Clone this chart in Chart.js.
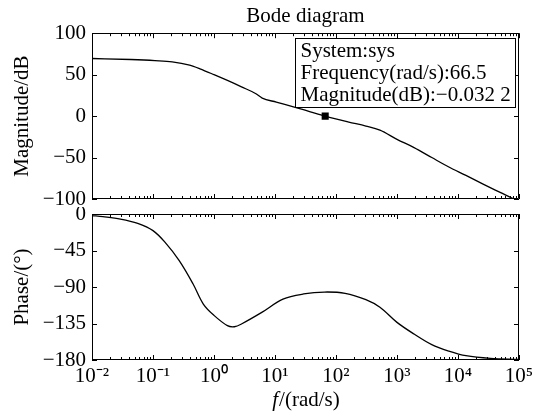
<!DOCTYPE html>
<html>
<head>
<meta charset="utf-8">
<script src="https://cdn.jsdelivr.net/npm/chart.js@4.4.1/dist/chart.umd.min.js"></script>
<style>
  html, body { margin: 0; padding: 0; background: #fff; }
  #wrap { position: relative; width: 543px; height: 416px; background: #fff; }
  #c1 { position: absolute; left: 0; top: 0; }
  #c2 { position: absolute; left: 0; top: 207px; }
</style>
</head>
<body>
<div id="wrap">
  <canvas id="c1" width="543" height="207"></canvas>
  <canvas id="c2" width="543" height="209"></canvas>
</div>
<script>
// ---------------- data ----------------
const magFreq = [0.01, 0.0432, 0.1076, 0.2065, 0.398, 0.589, 1.0, 1.66, 2.82, 4.79, 6.17, 10.5, 22.9, 38.0, 66.5, 162, 309, 525, 1000, 1905, 3715, 7079, 13490, 26300, 50120, 79430, 100000];
const magDb   = [69.5, 68.3, 67.0, 65.5, 61.4, 57.0, 50.0, 43.0, 35.3, 27.3, 21.7, 16.9, 10.0, 5.2, -0.0322, -7.2, -12.0, -16.9, -28.0, -38.0, -50.0, -61.4, -71.5, -82.3, -92.4, -99.6, -104];

const phaseFreq = [0.01, 0.0151, 0.0292, 0.0562, 0.1, 0.158, 0.269, 0.452, 0.668, 1.0, 1.66, 2.16, 2.82, 6.17, 13.5, 29.5, 64.6, 141, 309, 525, 1000, 1905, 3715, 7079, 13490, 33880, 100000];
const phaseDeg  = [-2.0, -3.3, -6.2, -11.5, -20.5, -35.0, -57.5, -86.0, -111.0, -125.0, -137.7, -139.0, -135.6, -121.0, -105.0, -98.6, -96.2, -97.8, -105.6, -115.0, -133.6, -148.0, -161.0, -169.0, -174.7, -178.0, -179.2];

const xTickValues = [1e-2, 1e-1, 1e0, 1e1, 1e2, 1e3, 1e4, 1e5];
const xTickLabels = ['10\u207B\u00B2', '10\u207B\u00B9', '10\u2070', '10\u00B9', '10\u00B2', '10\u00B3', '10\u2074', '10\u2075'];
const magTicks = [100, 50, 0, -50, -100];
const phaseTicks = [0, -45, -90, -135, -180];

const tipFreq = [66.5];
const tipMag = [-0.0322];
const tipLines = ['System:sys', 'Frequency(rad/s):66.5', 'Magnitude(dB):\u22120.032 2'];

// ---------------- styling ----------------
const FONT = '"Liberation Serif", "Times New Roman", Times, serif';
const FS = 21;
Chart.defaults.font.family = FONT;
Chart.defaults.font.size = FS;
Chart.defaults.color = '#000';

const PLOT_LEFT = 92;
const PLOT_RIGHT_PAD = 24;
const minus = v => String(v).replace('-', '\u2212');

function noOverflow(s) {
  s.paddingTop = 0; s.paddingBottom = 0; s.paddingLeft = 0; s.paddingRight = 0;
}

// inward tick marks on all four sides + box frame
const frameTicks = {
  id: 'frameTicks',
  afterDraw(chart) {
    const {ctx, chartArea: a, scales} = chart;
    const x = scales.x, y = scales.y;
    ctx.save();
    ctx.strokeStyle = '#000';
    ctx.lineWidth = 1;
    ctx.beginPath();
    ctx.rect(Math.round(a.left) + 0.5, Math.round(a.top) + 0.5, Math.round(a.right - a.left) - 1, Math.round(a.bottom - a.top) - 1);
    ctx.stroke();
    ctx.beginPath();
    for (let e = -2; e <= 5; e++) {
      for (let m = 1; m <= 9; m++) {
        const v = m * Math.pow(10, e);
        if (v > 1e5 * 1.0001) break;
        const px = Math.round(x.getPixelForValue(v)) + 0.5;
        const len = (m === 1) ? 5 : 3;
        ctx.moveTo(px, a.top); ctx.lineTo(px, a.top + len);
        ctx.moveTo(px, a.bottom); ctx.lineTo(px, a.bottom - len);
      }
    }
    y.ticks.forEach(t => {
      const py = Math.round(y.getPixelForValue(t.value)) + 0.5;
      ctx.moveTo(a.left, py); ctx.lineTo(a.left + 5, py);
      ctx.moveTo(a.right, py); ctx.lineTo(a.right - 5, py);
    });
    ctx.stroke();
    ctx.restore();
  }
};

// data tip box on the magnitude plot
const dataTip = {
  id: 'dataTip',
  afterDraw(chart) {
    const {ctx, chartArea: a, scales} = chart;
    const mx = scales.x.getPixelForValue(tipFreq[0]);
    ctx.save();
    ctx.font = FS + 'px ' + FONT;
    const w = Math.max(...tipLines.map(s => ctx.measureText(s).width));
    const left = Math.round(mx - 30) + 0.5;
    const top = Math.round(a.top + 5) + 0.5;
    const lh = 22;
    const bw = Math.round(w + 10);
    const bh = lh * tipLines.length + 3;
    ctx.fillStyle = '#fff';
    ctx.fillRect(left, top, bw, bh);
    ctx.strokeStyle = '#000';
    ctx.lineWidth = 1;
    ctx.strokeRect(left, top, bw, bh);
    ctx.fillStyle = '#000';
    ctx.textBaseline = 'alphabetic';
    tipLines.forEach((s, i) => ctx.fillText(s, left + 5, top + 18 + i * lh));
    ctx.restore();
  }
};

// x-axis label with italic f
const xLabel = {
  id: 'xLabel',
  afterDraw(chart) {
    const {ctx, chartArea: a} = chart;
    ctx.save();
    ctx.fillStyle = '#000';
    ctx.textBaseline = 'alphabetic';
    const fI = 'italic ' + FS + 'px ' + FONT, fN = FS + 'px ' + FONT;
    ctx.font = fI; const w1 = ctx.measureText('f').width;
    ctx.font = fN; const w2 = ctx.measureText('/(rad/s)').width;
    const cx = (a.left + a.right) / 2;
    let x0 = cx - (w1 + w2) / 2;
    ctx.font = fI; ctx.fillText('f', x0, 199);
    ctx.font = fN; ctx.fillText('/(rad/s)', x0 + w1 + 1, 199);
    ctx.restore();
  }
};

function logX(showLabels) {
  return {
    type: 'logarithmic',
    min: 1e-2,
    max: 1e5,
    display: showLabels,
    afterBuildTicks: s => { s.ticks = xTickValues.map(v => ({value: v})); },
    afterFit: s => { if (showLabels) s.height = 56; noOverflow(s); },
    grid: { display: false, drawTicks: false },
    border: { display: false },
    ticks: {
      autoSkip: false,
      maxRotation: 0,
      padding: 4,
      font: { size: FS },
      callback: (v, i) => xTickLabels[i]
    }
  };
}

function linY(ticks, title) {
  return {
    type: 'linear',
    min: Math.min(...ticks),
    max: Math.max(...ticks),
    afterBuildTicks: s => { s.ticks = ticks.map(v => ({value: v})); },
    afterFit: s => { s.width = PLOT_LEFT; noOverflow(s); },
    grid: { display: false, drawTicks: false },
    border: { display: false },
    ticks: { padding: 6, font: { size: FS }, callback: v => minus(v) },
    title: { display: true, text: title, font: { size: FS }, padding: { top: 10, bottom: 0 } }
  };
}

// ---------------- magnitude ----------------
new Chart(document.getElementById('c1'), {
  type: 'line',
  data: {
    datasets: [
      {
        data: magFreq.map((f, i) => ({x: f, y: magDb[i]})),
        borderColor: '#000', borderWidth: 1.3, pointRadius: 0, cubicInterpolationMode: 'monotone', fill: false
      },
      {
        data: tipFreq.map((f, i) => ({x: f, y: tipMag[i]})),
        showLine: false, pointStyle: 'rect', pointRadius: 5,
        pointBackgroundColor: '#000', pointBorderColor: '#000', pointBorderWidth: 0
      }
    ]
  },
  options: {
    responsive: false,
    animation: false,
    layout: { padding: { left: 0, right: PLOT_RIGHT_PAD, top: 0, bottom: 8 } },
    plugins: {
      legend: { display: false },
      tooltip: { enabled: false },
      title: { display: true, text: 'Bode diagram', fullSize: false, font: { size: FS, weight: 'normal' }, padding: { top: 4, bottom: 4 } }
    },
    scales: { x: logX(false), y: linY(magTicks, 'Magnitude/dB') }
  },
  plugins: [frameTicks, dataTip]
});

// ---------------- phase ----------------
new Chart(document.getElementById('c2'), {
  type: 'line',
  data: {
    datasets: [{
      data: phaseFreq.map((f, i) => ({x: f, y: phaseDeg[i]})),
      borderColor: '#000', borderWidth: 1.3, pointRadius: 0, tension: 0.35, fill: false
    }]
  },
  options: {
    responsive: false,
    animation: false,
    layout: { padding: { left: 0, right: PLOT_RIGHT_PAD, top: 7, bottom: 0 } },
    plugins: { legend: { display: false }, tooltip: { enabled: false } },
    scales: { x: logX(true), y: linY(phaseTicks, 'Phase/(\u00B0)') }
  },
  plugins: [frameTicks, xLabel]
});
</script>
</body>
</html>
